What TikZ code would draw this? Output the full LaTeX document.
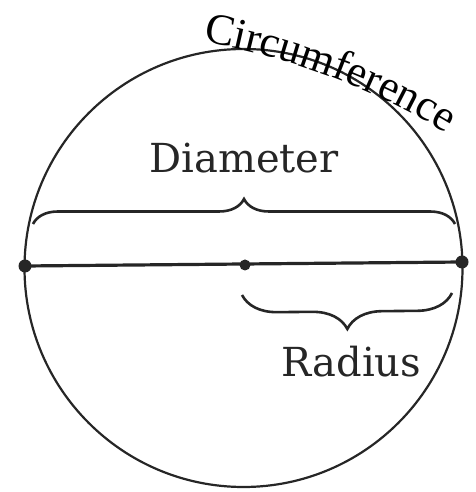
\documentclass[tikz,border=0pt]{standalone}
\usepackage{fontspec}
\setmainfont{DejaVu Serif}
\newfontfamily\circfont{Liberation Serif}
\usetikzlibrary{decorations.pathreplacing,decorations.text}
\tikzset{
  ink/.style={draw=black!85},
  dotpt/.style={circle,fill=black!85,inner sep=0pt,minimum size=13pt},
  bracestyle/.style={ink,line width=2.6pt,decorate,decoration={brace,amplitude=#1}},
  lab/.style={font=\fontsize{40}{40}\selectfont,text=black!85,anchor=base,inner sep=0pt}
}
\begin{document}
\begin{tikzpicture}[x=1pt,y=1pt]
\useasboundingbox (0,0) rectangle (475,492);
% circle
\draw[ink,line width=2.2pt] (243.5,224) circle[radius=219pt];
% diameter points
\node[dotpt] (L) at (25,226) {};
\node[dotpt,minimum size=11pt] (C) at (245,227) {};
\node[dotpt] (R) at (462,230) {};
\draw[ink,line width=3.2pt] (L.center) -- (R.center);
% braces
\coordinate (dl) at (33,268);
\coordinate (dr) at (455,268);
\draw[bracestyle=25pt] (dl) -- (dr);
\coordinate (rl) at (242,197);
\coordinate (rr) at (452,199);
\draw[bracestyle=35pt] (rr) -- (rl);
% labels
\node[lab] (diam) at (244,319) {Diameter};
\node[lab] (rad) at (351.5,115) {Radius};
% circumference along a curve
\path[decorate,decoration={text along path,text align=left,
  text={|\fontsize{44}{44}\circfont|Circumference}}]
  (203,450) arc[start angle=80.2,end angle=54,radius=697pt];
\end{tikzpicture}
\end{document}
